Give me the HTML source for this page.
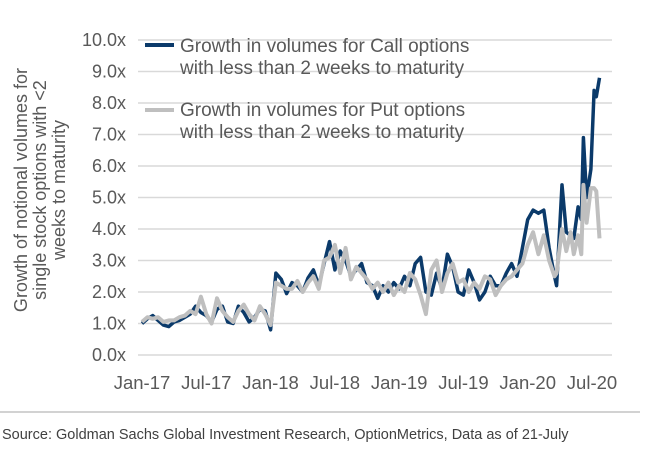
<!DOCTYPE html>
<html><head><meta charset="utf-8"><style>
body{margin:0;background:#fff;width:672px;height:456px;overflow:hidden;font-family:"Liberation Sans",sans-serif}
</style></head><body>
<svg id="chart" width="672" height="456" xmlns="http://www.w3.org/2000/svg" font-family="Liberation Sans, sans-serif">
<g id="grid"></g>
<g id="ylab" fill="#595959" font-size="18" text-anchor="end"></g>
<g id="xlab" fill="#595959" font-size="18.5" text-anchor="middle"></g>
<text transform="translate(46,190) rotate(-90)" fill="#595959" font-size="18" text-anchor="middle"><tspan x="0" dy="-19">Growth of notional volumes for</tspan><tspan x="0" dy="19">single stock options with &lt;2</tspan><tspan x="0" dy="19">weeks to maturity</tspan></text>
<g id="series"></g>
<g>
<line x1="145" y1="45" x2="174" y2="45" stroke="#0b3a6a" stroke-width="4"/>
<text x="180" y="52" fill="#595959" font-size="19"><tspan x="180">Growth in volumes for Call options</tspan><tspan x="180" dy="22">with less than 2 weeks to maturity</tspan></text>
<line x1="145" y1="110" x2="174" y2="110" stroke="#bfbfbf" stroke-width="4"/>
<text x="180" y="116" fill="#595959" font-size="19"><tspan x="180">Growth in volumes for Put options</tspan><tspan x="180" dy="22">with less than 2 weeks to maturity</tspan></text>
</g>
<line x1="0" y1="412" x2="640" y2="412" stroke="#a6a6a6" stroke-width="1"/>
<text x="2" y="439" fill="#404040" font-size="14.5">Source: Goldman Sachs Global Investment Research, OptionMetrics, Data as of 21-July</text>
</svg>
<script>
const yTicks=[0,1,2,3,4,5,6,7,8,9,10];
const xTickLabels=["Jan-17","Jul-17","Jan-18","Jul-18","Jan-19","Jul-19","Jan-20","Jul-20"];
const xTickMonths=[0,6,12,18,24,30,36,42];
const callMonths=[0,0.5,1,1.5,2,2.5,3,3.5,4,4.5,5,5.5,6,6.5,7,7.5,8,8.5,9,9.5,10,10.5,11,11.5,12,12.5,13,13.5,14,14.5,15,15.5,16,16.5,17,17.5,18,18.5,19,19.5,20,20.5,21,21.5,22,22.5,23,23.5,24,24.5,25,25.5,26,26.5,27,27.5,28,28.5,29,29.5,30,30.5,31,31.5,32,32.5,33,33.5,34,34.5,35,35.5,36,36.5,37,37.5,38,38.5,38.7,39.2,39.6,40,40.3,40.7,41,41.2,41.5,41.9,42.2,42.4,42.7];
const callValues=[1.0,1.15,1.25,1.1,0.95,0.9,1.05,1.1,1.2,1.3,1.55,1.35,1.25,1.05,1.45,1.55,1.05,1.0,1.55,1.35,1.05,1.2,1.45,1.4,0.8,2.6,2.4,1.95,2.3,2.2,2.0,2.45,2.7,2.2,2.9,3.6,2.7,3.3,3.0,2.5,2.7,2.9,2.3,2.2,1.8,2.2,2.0,2.3,2.1,2.5,2.2,2.9,3.1,2.0,1.9,2.6,2.1,3.2,2.8,2.0,1.9,2.7,2.3,1.75,2.0,2.5,2.2,2.2,2.6,2.9,2.5,3.4,4.3,4.6,4.5,4.6,3.4,2.5,2.2,5.4,3.9,3.8,3.7,4.7,4.3,6.9,5.0,5.9,8.4,8.2,8.8];
const putValues=[1.05,1.2,1.15,1.2,1.05,1.1,1.1,1.2,1.25,1.4,1.3,1.85,1.3,1.0,1.8,1.4,1.2,1.05,1.4,1.6,1.3,1.1,1.55,1.3,0.95,2.3,2.2,2.1,2.1,2.35,2.0,2.3,2.5,2.1,3.0,3.1,3.5,2.6,3.4,2.4,2.8,2.6,2.4,2.1,2.3,2.0,2.3,1.9,2.2,2.0,2.6,2.4,1.9,1.3,2.7,3.0,2.0,2.6,2.9,2.3,2.4,2.0,2.3,2.1,2.5,2.4,1.9,2.2,2.4,2.5,2.7,2.9,3.5,3.9,3.2,3.8,3.0,2.5,2.6,4.0,3.3,3.9,3.2,3.8,3.2,5.4,4.2,5.3,5.3,5.2,3.7];
const X=m=>142+m*(450/42);
const Y=v=>355-v*31.5;
const NS="http://www.w3.org/2000/svg";
const grid=document.getElementById('grid'),ylab=document.getElementById('ylab'),xlab=document.getElementById('xlab'),ser=document.getElementById('series');
yTicks.forEach(t=>{
 const l=document.createElementNS(NS,'line');
 
 
 l.setAttribute('x1',138);l.setAttribute('x2',612);l.setAttribute('y1',Y(t));l.setAttribute('y2',Y(t));
 l.setAttribute('stroke','#d9d9d9');l.setAttribute('stroke-width','1.5');grid.appendChild(l);
 const tx=document.createElementNS(NS,'text');
 
 
 tx.setAttribute('x',126);tx.setAttribute('y',Y(t)+6);tx.textContent=t.toFixed(1)+'x';ylab.appendChild(tx);
});
xTickLabels.forEach((s,i)=>{
 const tx=document.createElementNS(NS,'text');
 
 
 tx.setAttribute('x',X(xTickMonths[i]));tx.setAttribute('y',389);tx.textContent=s;xlab.appendChild(tx);
});
function line(vals,color,w,name){
 const p=document.createElementNS(NS,'path');
 
 
 p.setAttribute('d',vals.map((v,i)=>(i?'L':'M')+X(callMonths[i]).toFixed(1)+','+Y(v).toFixed(1)).join(''));
 p.setAttribute('fill','none');p.setAttribute('stroke',color);p.setAttribute('stroke-width',w);p.setAttribute('stroke-linejoin','round');
 ser.appendChild(p);
}
line(callValues,'#0b3a6a',3.5,'call-series-line');
line(putValues,'#bfbfbf',4,'put-series-line');
</script>
</body></html>
